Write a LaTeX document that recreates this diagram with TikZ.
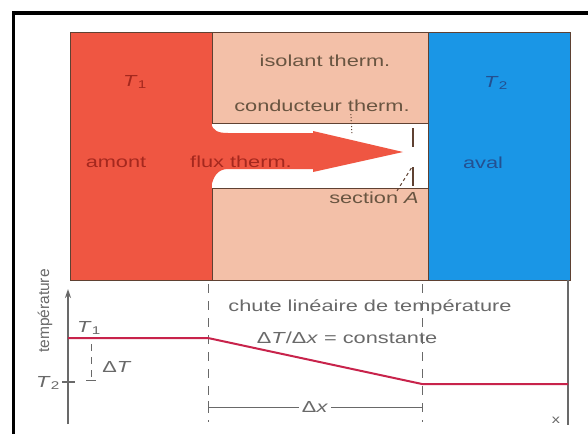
\documentclass[tikz,border=0pt]{standalone}
\usepackage{fontspec}
\setmainfont{Liberation Sans}[FakeStretch=1.36]
\newfontfamily\plainsans{Liberation Sans}
\usetikzlibrary{arrows.meta}

\definecolor{amontred}{RGB}{239,86,66}
\definecolor{isolbeige}{RGB}{243,192,168}
\definecolor{avalblue}{RGB}{26,150,230}
\definecolor{edgebrown}{RGB}{95,65,50}
\definecolor{amonttext}{RGB}{165,40,30}
\definecolor{beigetext}{RGB}{105,85,65}
\definecolor{avaltext}{RGB}{35,80,145}
\definecolor{plotgray}{RGB}{105,105,105}
\definecolor{curvered}{RGB}{200,35,75}

\begin{document}
\begin{tikzpicture}[x=1pt,y=-1pt]
        \tikzstyle{block}=[draw=edgebrown, line width=1pt]
        \tikzstyle{lbl}=[font=\fontsize{16}{18}\selectfont, inner sep=1pt]
        \tikzstyle{plbl}=[lbl, text=plotgray]
        \tikzstyle{guide}=[plotgray, line width=1pt, dash pattern=on 9pt off 8pt]

        \useasboundingbox (0,0) rectangle (588,434);
        \fill[white] (0,0) rectangle (588,434);
        \draw[line width=3.5pt] (588,13) -- (13.5,13) -- (13.5,434);

        % blocs
        \fill[amontred] (70,32) rectangle (212,280);
        \draw[block] (212,32) -- (70,32) -- (70,280) -- (212,280);
        \draw[block, fill=isolbeige] (212,32) rectangle (428,123);
        \draw[block, fill=isolbeige] (212,188) rectangle (428,280);
        \draw[block, fill=avalblue] (428,32) rectangle (570,280);

        % flux
        \fill[amontred] (211,123) .. controls (213,131) and (218,133) .. (228,133)
            -- (313,133) -- (313,131) -- (403,152) -- (313,172) -- (313,169)
            -- (228,169) .. controls (218,169) and (213,176) .. (211,188) -- cycle;

        \node[lbl, text=amonttext] (t1) at (135,82) {\textit{T}\textsubscript{1}};
        \node[lbl, text=amonttext] (amont) at (116,162) {amont};
        \node[lbl, text=amonttext] (flux) at (241,162) {flux therm.};
        \node[lbl, text=beigetext] (isol) at (325,61) {isolant therm.};
        \node[lbl, text=beigetext] (cond) at (322,106) {conducteur therm.};
        \node[lbl, text=beigetext] (sect) at (374,198) {section \textit{A}};
        \node[lbl, text=avaltext] (t2) at (496,83) {\textit{T}\textsubscript{2}};
        \node[lbl, text=avaltext] (aval) at (483,163) {aval};

        \coordinate (condend) at (352,135);
        \coordinate (sectend) at (412,167);
        \draw[edgebrown, line width=1pt, dotted] (cond.south east) ++(-60,1) -- (condend);
        \draw[edgebrown, line width=1pt, dashed] (sect.north east) ++(-23,0) -- (sectend);
        \draw[edgebrown, line width=1.2pt] (413,128) -- (413,147);
        \draw[edgebrown, line width=1.2pt] (413,167) -- (413,186);

        % diagramme
        \coordinate (origin) at (68,424);
        \coordinate (ytop) at (68,289);
        \draw[plotgray, line width=1.5pt, -{Stealth[length=9pt,width=6pt]}] (origin) -- (ytop);
        \draw[plotgray, line width=1.5pt] (568,280) -- (568,425);
        \draw[guide] (208,284) -- (208,422);
        \draw[guide] (422,284) -- (422,422);

        \draw[curvered, line width=2pt] (68,338) -- (208,338) -- (422,384) -- (568,384);
        \draw[plotgray, line width=1.2pt] (62,382) -- (75,382);

        \node[plbl] (pt1) at (89,328) {\textit{T}\textsubscript{1}};
        \node[plbl] (pt2) at (48,383) {\textit{T}\textsubscript{2}};
        \node[plbl, rotate=90, font=\plainsans\fontsize{15.5}{17}\selectfont] (temp) at (45,311) {température};
        \node[plbl] (chute) at (370,307) {chute linéaire de température};
        \node[plbl] (const) at (347,338) {Δ\textit{T}/Δ\textit{x} = constante};

        \coordinate (dtop) at (91,344);
        \coordinate (dbot) at (91,380);
        \draw[plotgray, line width=1pt, dash pattern=on 7pt off 6pt] (dtop) -- (dbot);
        \draw[plotgray, line width=1pt] (86,380) -- (96,380);
        \node[plbl] (dT) at (117,367) {Δ\textit{T}};

        \coordinate (dxl) at (208,407);
        \coordinate (dxr) at (422,407);
        \draw[plotgray, line width=1pt] (dxl) -- node[fill=white, inner sep=3pt, text=plotgray, font=\fontsize{16}{18}\selectfont] (dx) {Δ\textit{x}} (dxr);
        \draw[plotgray, line width=1pt] (208,401) -- (208,413);
        \node[plbl, font=\fontsize{12}{13}\selectfont] (xlbl) at (556,420) {x};
\end{tikzpicture}
\end{document}
